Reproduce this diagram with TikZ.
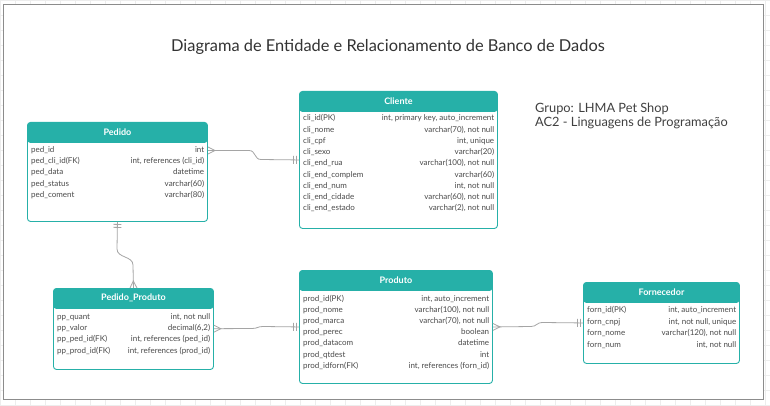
\documentclass[tikz,border=0pt]{standalone}
\usepackage{fontspec}
\setmainfont{Lato}
\usetikzlibrary{calc,decorations.markings}
\definecolor{erteal}{RGB}{38,176,168}
\definecolor{ertext}{RGB}{75,75,75}
\definecolor{erlink}{RGB}{165,165,165}
\begin{document}
\begin{tikzpicture}[x=1pt,y=-1pt,
    entity/.style={draw=erteal, line width=0.9pt, rounded corners=3pt, anchor=north west, inner sep=0pt,
      path picture={\fill[erteal] (path picture bounding box.north west) rectangle ([yshift=-20.5pt]path picture bounding box.north east);}},
    enttitle/.style={text=white, font=\fontsize{9}{10}\selectfont\bfseries, inner sep=0pt},
    colkey/.style={anchor=west, text=ertext, font=\fontsize{8}{9}\selectfont, inner sep=0pt, text height=5.8pt, text depth=1.8pt},
    coltype/.style={anchor=east, text=ertext, font=\fontsize{8}{9}\selectfont, inner sep=0pt, text height=5.8pt, text depth=1.8pt, xshift=-3.5pt},
    link/.style={draw=erlink, line width=0.8pt},
    crowstart/.style={postaction={decorate, decoration={markings, mark=at position 7pt with {\draw[erlink, line width=0.8pt] (-7pt,3.5pt) -- (0,0) -- (-7pt,-3.5pt);}}}},
    crowend/.style={postaction={decorate, decoration={markings, mark=at position -7pt with {\draw[erlink, line width=0.8pt] (7pt,3.5pt) -- (0,0) -- (7pt,-3.5pt);}}}},
    barsstart/.style={postaction={decorate, decoration={markings,
      mark=at position 2.5pt with {\draw[erlink, line width=0.8pt] (0,-4pt) -- (0,4pt);},
      mark=at position 5.5pt with {\draw[erlink, line width=0.8pt] (0,-4pt) -- (0,4pt);}}}},
    barsend/.style={postaction={decorate, decoration={markings,
      mark=at position -2.5pt with {\draw[erlink, line width=0.8pt] (0,-4pt) -- (0,4pt);},
      mark=at position -5.5pt with {\draw[erlink, line width=0.8pt] (0,-4pt) -- (0,4pt);}}}}]
  \useasboundingbox (0,0) rectangle (770,406);
  % page and frame
  \fill[white] (0,0) rectangle (770,406);
  \draw[black!7, step=15pt] (0,0) grid (770,406);
  \draw[fill=white, draw=black!45, line width=1.5pt] (3.5,4.5) rectangle (763.5,399.5);
  \node[text=black!80, font=\fontsize{16.4}{19}\selectfont] (title) at (388,47) {Diagrama de Entidade e Relacionamento de Banco de Dados};
  \node[anchor=west, text=black!75, font=\fontsize{12.8}{14}\selectfont, inner sep=0pt] (grupo) at (535,108.5) {Grupo: LHMA Pet Shop};
  \node[anchor=west, text=black!75, font=\fontsize{12.8}{14}\selectfont, inner sep=0pt] (curso) at (535,123) {AC2 - Linguagens de Programação};

  % Pedido
  \node[entity, minimum width=180pt, minimum height=99pt] (pedido) at (27,122) {};
  \node[enttitle] (pedido-t) at ([yshift=-10.25pt]pedido.north) {Pedido};
  \foreach \k/\v [count=\i] in {ped\_id/int, ped\_cli\_id(FK)/{int, references (cli\_id)}, ped\_data/datetime,
      ped\_status/varchar(60), ped\_coment/varchar(80)}
  {
    \node[colkey] (ped-\i) at ($(pedido.north west)+(4,{17.3+11.2*\i})$) {\k};
    \node[coltype] at (pedido.east |- ped-\i) {\v};
  }

  % Cliente
  \node[entity, minimum width=198pt, minimum height=137pt] (cliente) at (299,91) {};
  \node[enttitle] (cliente-t) at ([yshift=-10.25pt]cliente.north) {Cliente};
  \foreach \k/\v [count=\i] in {cli\_id(PK)/{int, primary key, auto\_increment}, cli\_nome/{varchar(70), not null},
      cli\_cpf/{int, unique}, cli\_sexo/varchar(20), cli\_end\_rua/{varchar(100), not null},
      cli\_end\_complem/varchar(60), cli\_end\_num/{int, not null}, cli\_end\_cidade/{varchar(60), not null},
      cli\_end\_estado/{varchar(2), not null}}
  {
    \node[colkey] (cli-\i) at ($(cliente.north west)+(4,{16.8+11.2*\i})$) {\k};
    \node[coltype] at (cliente.east |- cli-\i) {\v};
  }

  % Pedido_Produto
  \node[entity, minimum width=160pt, minimum height=81pt] (pp) at (53,288) {};
  \node[enttitle] (pp-t) at ([yshift=-10.25pt]pp.north) {Pedido\_Produto};
  \foreach \k/\v [count=\i] in {pp\_quant/{int, not null}, pp\_valor/{decimal(6,2)},
      pp\_ped\_id(FK)/{int, references (ped\_id)}, pp\_prod\_id(FK)/{int, references (prod\_id)}}
  {
    \node[colkey] (pp-\i) at ($(pp.north west)+(4,{18.3+11.2*\i})$) {\k};
    \node[coltype] at (pp.east |- pp-\i) {\v};
  }

  % Produto
  \node[entity, minimum width=193pt, minimum height=113pt] (produto) at (299,270) {};
  \node[enttitle] (produto-t) at ([yshift=-10.5pt]produto.north) {Produto};
  \foreach \k/\v [count=\i] in {prod\_id(PK)/{int, auto\_increment}, prod\_nome/{varchar(100), not null},
      prod\_marca/{varchar(70), not null}, prod\_perec/boolean, prod\_datacom/datetime, prod\_qtdest/int,
      prod\_idforn(FK)/{int, references (forn\_id)}}
  {
    \node[colkey] (prod-\i) at ($(produto.north west)+(4,{17.8+11.2*\i})$) {\k};
    \node[coltype] at (produto.east |- prod-\i) {\v};
  }

  % Fornecedor
  \node[entity, minimum width=156pt, minimum height=81pt] (fornecedor) at (583,282) {};
  \node[enttitle] (fornecedor-t) at ([yshift=-10.5pt]fornecedor.north) {Fornecedor};
  \foreach \k/\v [count=\i] in {forn\_id(PK)/{int, auto\_increment}, forn\_cnpj/{int, not null, unique},
      forn\_nome/{varchar(120), not null}, forn\_num/{int, not null}}
  {
    \node[colkey] (forn-\i) at ($(fornecedor.north west)+(4,{16.8+11.6*\i})$) {\k};
    \node[coltype] at (fornecedor.east |- forn-\i) {\v};
  }

  % relacionamentos
  \draw[link, crowstart, barsend] (pedido.east |- ped-1) -- (249,150.5)
    .. controls (256,150.5) and (254,159.5) .. (261,159.5) -- (cliente.west);
  \draw[link, barsstart, crowend] (pedido.south) -- (117,249)
    .. controls (117,258) and (133,256) .. (133,265) -- (pp.north);
  \draw[link, crowstart, barsend] (pp.east |- pp-2) -- (252,328.5)
    .. controls (258,328.5) and (257,326.5) .. (263,326.5) -- (produto.west);
  \draw[link, crowstart, barsend] (produto.east) -- (531,326.5)
    .. controls (537,326.5) and (536,322.5) .. (543,322.5) -- (fornecedor.west);
\end{tikzpicture}
\end{document}
